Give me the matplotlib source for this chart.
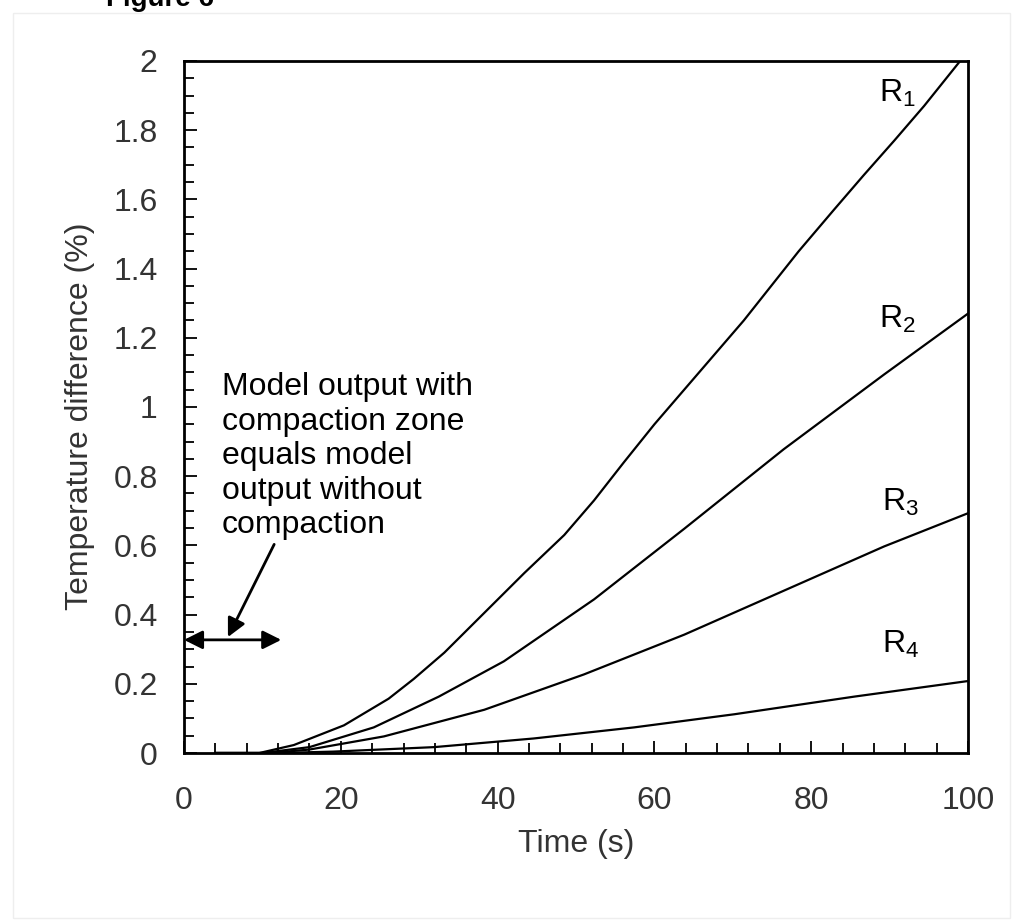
import matplotlib.pyplot as plt
from matplotlib.ticker import MultipleLocator
from matplotlib.patches import Rectangle

plt.rcParams['font.family'] = ['Liberation Sans', 'DejaVu Sans']
plt.rcParams['mathtext.default'] = 'regular'

# curves: time (s) -> temperature difference (%)
t_r1 = [4, 9.6, 14, 20.4, 26.1, 29.3, 33.2, 38.3, 43.4, 48.5, 52.3, 56.1, 60, 65.7,
        71.4, 78.4, 82.9, 86.7, 90.6, 94.4, 99]
r1 = [0, 0, 0.023, 0.08, 0.157, 0.214, 0.29, 0.405, 0.52, 0.63, 0.73, 0.84, 0.95, 1.10,
      1.25, 1.45, 1.57, 1.67, 1.77, 1.87, 2.0]
t_r2 = [4, 10, 16, 24.2, 32.5, 40.8, 52.3, 63.8, 76.5, 89.3, 100]
r2 = [0, 0, 0.017, 0.074, 0.163, 0.265, 0.444, 0.648, 0.878, 1.094, 1.27]
t_r3 = [4, 11, 16, 25.5, 38.3, 51, 63.8, 76.5, 89.3, 100]
r3 = [0, 0, 0.01, 0.048, 0.125, 0.227, 0.342, 0.469, 0.597, 0.693]
t_r4 = [4, 12, 19, 31.9, 44.6, 57.4, 70.2, 85.5, 100]
r4 = [0, 0, 0.004, 0.017, 0.042, 0.074, 0.112, 0.163, 0.208]

curve_labels = ['R$_1$', 'R$_2$', 'R$_3$', 'R$_4$']
label_x = [88.6, 88.6, 89.0, 89.0]
label_y = [1.905, 1.254, 0.724, 0.314]

note = 'Model output with\ncompaction zone\nequals model\noutput without\ncompaction'
zone_end = 12.4
zone_y = 0.327

fig = plt.figure(figsize=(10.15, 9.21), dpi=100)
ax = fig.add_axes([0.1813, 0.1824, 0.7724, 0.7514])

for t, r in [(t_r1, r1), (t_r2, r2), (t_r3, r3), (t_r4, r4)]:
    ax.plot(t, r, color='black', lw=1.6)

for lab, x, y in zip(curve_labels, label_x, label_y):
    ax.text(x, y, lab, fontsize=23, ha='left', va='center')

ax.text(4.8, 0.858, note, fontsize=23, ha='left', va='center', linespacing=1.2)

# double arrow marking the zone
ax.annotate('', xy=(0, zone_y), xytext=(zone_end, zone_y),
            arrowprops=dict(arrowstyle='<|-|>', color='black', lw=2,
                            mutation_scale=28, shrinkA=0, shrinkB=0))
ax.annotate('', xy=(5.6, zone_y + 0.008), xytext=(11.5, 0.603),
            arrowprops=dict(arrowstyle='-|>', color='black', lw=2,
                            mutation_scale=28, shrinkA=0, shrinkB=0))

ax.set_xlim(0, 100)
ax.set_ylim(0, 2)
ax.xaxis.set_major_locator(MultipleLocator(20))
ax.xaxis.set_minor_locator(MultipleLocator(4))
ax.yaxis.set_major_locator(MultipleLocator(0.2))
ax.yaxis.set_minor_locator(MultipleLocator(0.05))
ax.set_yticks([0, 0.2, 0.4, 0.6, 0.8, 1.0, 1.2, 1.4, 1.6, 1.8, 2.0],
              ['0', '0.2', '0.4', '0.6', '0.8', '1', '1.2', '1.4', '1.6', '1.8', '2'])

for s in ax.spines.values():
    s.set_linewidth(2)
ax.tick_params(which='both', direction='in', color='black', width=1.3,
               labelsize=23, labelcolor='#333333')
ax.tick_params(which='major', length=9)
ax.tick_params(which='minor', length=7)
ax.tick_params(axis='y', which='both', pad=19)
ax.tick_params(axis='x', which='both', pad=24)

ax.set_xlabel('Time (s)', fontsize=23, color='#333333', labelpad=9)
fig.text(80 / 1015, 1 - 416 / 921, 'Temperature difference (%)', rotation=90,
         fontsize=23, color='#333333', ha='center', va='center')

fig.text(160 / 1015, 1 - 6 / 921, 'Figure 6', fontsize=20, fontweight='bold',
         ha='center', va='baseline')
fig.patches.append(Rectangle((13 / 1015, 3 / 921), 997 / 1015, 905 / 921,
                             transform=fig.transFigure, fill=False,
                             edgecolor='#eeeeee', lw=1))

fig.savefig('out.png', dpi=100)
